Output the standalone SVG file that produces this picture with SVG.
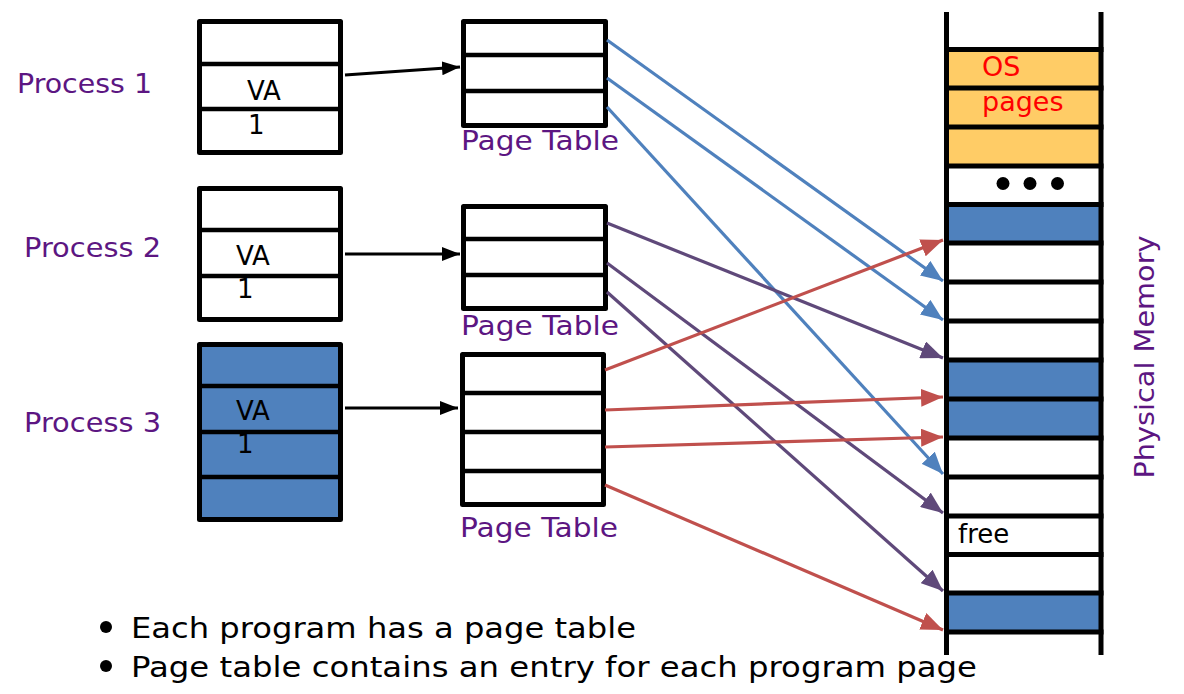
<svg xmlns="http://www.w3.org/2000/svg" width="1184" height="694" viewBox="0 0 1184 694">
<style>
.box{fill:#fff;stroke:#000;stroke-width:5;stroke-linejoin:round}
.div{stroke:#000;stroke-width:4.5}
.lbl{font-family:"DejaVu Sans",Verdana,sans-serif;fill:#5C1682;font-size:27px}
.txt{font-family:"DejaVu Sans",Verdana,sans-serif;fill:#000;font-size:26px}
.bul{font-family:"DejaVu Sans",Verdana,sans-serif;fill:#000;font-size:29px}
.os{font-family:"DejaVu Sans",Verdana,sans-serif;fill:#FF0000;font-size:27px}
.blk{stroke:#000;stroke-width:3;fill:none}
.blu{stroke:#4F81BD;stroke-width:3.2;fill:none}
.pur{stroke:#5F497A;stroke-width:3.2;fill:none}
.red{stroke:#C0504D;stroke-width:3.2;fill:none}
</style>
<defs>
<marker id="mBlk" markerUnits="userSpaceOnUse" viewBox="0 0 18 14" markerWidth="18" markerHeight="14" refX="18" refY="7" orient="auto"><path d="M0,0 L18,7 L0,14 Z" fill="#000"/></marker>
<marker id="mBlu" markerUnits="userSpaceOnUse" viewBox="0 0 22 18" markerWidth="22" markerHeight="18" refX="22" refY="9" orient="auto"><path d="M0,0 L22,9 L0,18 Z" fill="#4F81BD"/></marker>
<marker id="mPur" markerUnits="userSpaceOnUse" viewBox="0 0 22 18" markerWidth="22" markerHeight="18" refX="22" refY="9" orient="auto"><path d="M0,0 L22,9 L0,18 Z" fill="#5F497A"/></marker>
<marker id="mRed" markerUnits="userSpaceOnUse" viewBox="0 0 22 18" markerWidth="22" markerHeight="18" refX="22" refY="9" orient="auto"><path d="M0,0 L22,9 L0,18 Z" fill="#C0504D"/></marker>
</defs>
<rect width="1184" height="694" fill="#fff"/>

<g id="process1">
<text class="lbl" x="17" y="93" textLength="135" lengthAdjust="spacingAndGlyphs">Process 1</text>
<rect class="box" x="199.5" y="21.5" width="141" height="131"/>
<line class="div" x1="199.5" y1="64" x2="340.5" y2="64"/>
<line class="div" x1="199.5" y1="109" x2="340.5" y2="109"/>
<text class="txt" x="247" y="100">VA</text>
<text class="txt" x="248" y="134">1</text>
</g>

<g id="process2">
<text class="lbl" x="24" y="257" textLength="137" lengthAdjust="spacingAndGlyphs">Process 2</text>
<rect class="box" x="199.5" y="188.5" width="141" height="131"/>
<line class="div" x1="199.5" y1="230" x2="340.5" y2="230"/>
<line class="div" x1="199.5" y1="276" x2="340.5" y2="276"/>
<text class="txt" x="236" y="265">VA</text>
<text class="txt" x="237" y="298">1</text>
</g>

<g id="process3">
<text class="lbl" x="24" y="432" textLength="137" lengthAdjust="spacingAndGlyphs">Process 3</text>
<rect class="box" x="199.5" y="344.5" width="141" height="175" style="fill:#4F81BD"/>
<line class="div" x1="199.5" y1="386" x2="340.5" y2="386"/>
<line class="div" x1="199.5" y1="432" x2="340.5" y2="432"/>
<line class="div" x1="199.5" y1="477" x2="340.5" y2="477"/>
<text class="txt" x="236" y="420">VA</text>
<text class="txt" x="237" y="453">1</text>
</g>

<g id="pagetable1">
<rect class="box" x="463.5" y="21.5" width="142" height="104"/>
<line class="div" x1="463.5" y1="55" x2="605.5" y2="55"/>
<line class="div" x1="463.5" y1="91" x2="605.5" y2="91"/>
<text class="lbl" x="461" y="150" textLength="158" lengthAdjust="spacingAndGlyphs">Page Table</text>
</g>

<g id="pagetable2">
<rect class="box" x="463.5" y="206.5" width="142" height="102"/>
<line class="div" x1="463.5" y1="239" x2="605.5" y2="239"/>
<line class="div" x1="463.5" y1="275" x2="605.5" y2="275"/>
<text class="lbl" x="461" y="335" textLength="158" lengthAdjust="spacingAndGlyphs">Page Table</text>
</g>

<g id="pagetable3">
<rect class="box" x="462.5" y="354.5" width="141" height="150"/>
<line class="div" x1="462.5" y1="393" x2="603.5" y2="393"/>
<line class="div" x1="462.5" y1="432" x2="603.5" y2="432"/>
<line class="div" x1="462.5" y1="471" x2="603.5" y2="471"/>
<text class="lbl" x="460" y="537" textLength="158" lengthAdjust="spacingAndGlyphs">Page Table</text>
</g>

<g id="physicalmemory">
<rect x="946" y="49" width="155" height="117" fill="#FFCC66"/>
<rect x="946" y="204" width="155" height="39" fill="#4F81BD"/>
<rect x="946" y="360" width="155" height="78" fill="#4F81BD"/>
<rect x="946" y="593" width="155" height="39" fill="#4F81BD"/>
<g stroke="#000" stroke-width="5">
<line x1="946.5" y1="12" x2="946.5" y2="655"/>
<line x1="1101" y1="12" x2="1101" y2="655"/>
<line x1="944" y1="49.5" x2="1103.5" y2="49.5"/>
<line x1="944" y1="88" x2="1103.5" y2="88"/>
<line x1="944" y1="127" x2="1103.5" y2="127"/>
<line x1="944" y1="166" x2="1103.5" y2="166"/>
<line x1="944" y1="204.5" x2="1103.5" y2="204.5"/>
<line x1="944" y1="243" x2="1103.5" y2="243"/>
<line x1="944" y1="282" x2="1103.5" y2="282"/>
<line x1="944" y1="321" x2="1103.5" y2="321"/>
<line x1="944" y1="360" x2="1103.5" y2="360"/>
<line x1="944" y1="399" x2="1103.5" y2="399"/>
<line x1="944" y1="438" x2="1103.5" y2="438"/>
<line x1="944" y1="477" x2="1103.5" y2="477"/>
<line x1="944" y1="516" x2="1103.5" y2="516"/>
<line x1="944" y1="554.5" x2="1103.5" y2="554.5"/>
<line x1="944" y1="593" x2="1103.5" y2="593"/>
<line x1="944" y1="632" x2="1103.5" y2="632"/>
</g>
<text class="os" x="982" y="76">OS</text>
<text class="os" x="982" y="111">pages</text>
<circle cx="1003" cy="183.5" r="6.5" fill="#000"/>
<circle cx="1030" cy="183.5" r="6.5" fill="#000"/>
<circle cx="1057.5" cy="183.5" r="6.5" fill="#000"/>
<text class="txt" x="958" y="543">free</text>
<text class="lbl" transform="translate(1154,357) rotate(-90)" text-anchor="middle" textLength="243" lengthAdjust="spacingAndGlyphs" font-size="26">Physical Memory</text>
</g>

<g id="connectors">
<line class="blk" x1="345" y1="75" x2="460" y2="67" marker-end="url(#mBlk)"/>
<line class="blk" x1="345" y1="254" x2="460" y2="254" marker-end="url(#mBlk)"/>
<line class="blk" x1="345" y1="408" x2="458" y2="408" marker-end="url(#mBlk)"/>
<line class="blu" x1="607" y1="40" x2="943" y2="281" marker-end="url(#mBlu)"/>
<line class="blu" x1="607" y1="78" x2="943" y2="320" marker-end="url(#mBlu)"/>
<line class="blu" x1="607" y1="107" x2="943" y2="474" marker-end="url(#mBlu)"/>
<line class="pur" x1="607" y1="223" x2="943" y2="358" marker-end="url(#mPur)"/>
<line class="pur" x1="607" y1="263" x2="943" y2="513" marker-end="url(#mPur)"/>
<line class="pur" x1="607" y1="292" x2="943" y2="591" marker-end="url(#mPur)"/>
<line class="red" x1="605" y1="370" x2="943" y2="240" marker-end="url(#mRed)"/>
<line class="red" x1="605" y1="410" x2="943" y2="397" marker-end="url(#mRed)"/>
<line class="red" x1="605" y1="447" x2="943" y2="437" marker-end="url(#mRed)"/>
<line class="red" x1="605" y1="485" x2="943" y2="630" marker-end="url(#mRed)"/>
</g>

<g id="bullets">
<circle cx="106" cy="627" r="6" fill="#000"/>
<text class="bul" x="131" y="638" textLength="505" lengthAdjust="spacingAndGlyphs">Each program has a page table</text>
<circle cx="106" cy="666" r="6" fill="#000"/>
<text class="bul" x="131" y="677" textLength="846" lengthAdjust="spacingAndGlyphs">Page table contains an entry for each program page</text>
</g>
</svg>
